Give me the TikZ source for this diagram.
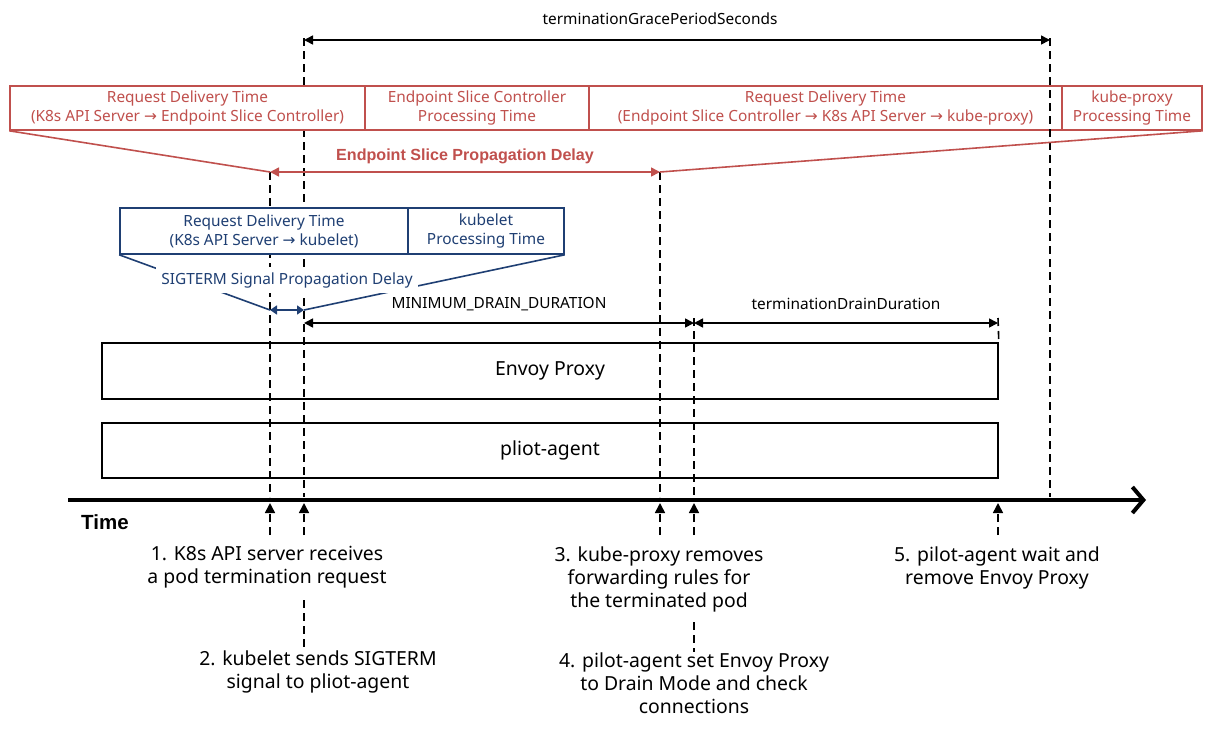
\documentclass[tikz,border=0pt]{standalone}
\usepackage{fontspec}
\setmainfont{Noto Sans}
\newfontfamily\headfont{Liberation Sans}
\newfontfamily\arrowfont{DejaVu Sans}
\newcommand{\rarr}{{\arrowfont\char"2192}}
\usetikzlibrary{arrows.meta}
\definecolor{esred}{HTML}{C0504D}
\definecolor{sigblue}{HTML}{1F3F73}

\begin{document}
\begin{tikzpicture}[x=1pt,y=-1pt,
  every node/.style={align=center,inner sep=0pt},
  smalltext/.style={font=\fontsize{15.4}{19}\selectfont},
  bigtext/.style={font=\fontsize{19.4}{23}\selectfont},
  redbox/.style={draw=esred,text=esred,fill=white,line width=1.6pt,minimum height=44pt,smalltext},
  bluebox/.style={draw=sigblue,text=sigblue,fill=white,line width=1.6pt,minimum height=46pt,smalltext},
  lane/.style={draw,line width=1.6pt,minimum height=56pt,bigtext},
  tick/.style={line width=1.6pt,dash pattern=on 8pt off 5pt},
  dim/.style={line width=1.6pt,{Triangle[length=9pt,width=9pt]}-{Triangle[length=9pt,width=9pt]}}]

  \useasboundingbox (0,0) rectangle (1221,729);

  % Specification of time points
  \coordinate (t1) at (270,172);
  \coordinate (t2) at (304,38);
  \coordinate (t3) at (660,172);
  \coordinate (t4) at (694,318);
  \coordinate (t5) at (998,318);
  \coordinate (tg) at (1050,38);
  \coordinate (s1) at (270,310);
  \coordinate (s2) at (304,310);
  \coordinate (m2) at (304,323);
  \coordinate (m4) at (694,323);
  \coordinate (m5) at (998,323);
  \coordinate (g2) at (304,40);
  \coordinate (gg) at (1050,40);
  \foreach \n/\x in {1/270,2/304,3/660,4/694,5/998,g/1050} {
    \coordinate (a\n) at (\x,497);
    \coordinate (u\n) at (\x,503);
    \coordinate (d\n) at (\x,535);
  }
  \coordinate (tstart) at (68,500);
  \coordinate (tend) at (1146,500);

  % dashed lines behind the boxes
  \draw[tick] (t2) -- (a2);
  \draw[tick] (t1) -- (a1);
  \draw[tick] (t3) -- (a3);
  \draw[tick] (t4) -- (a4);

  % Endpoint slice boxes
  \node[redbox,minimum width=355pt] (rd1) at (187.5,108) {Request Delivery Time\\(K8s API Server \rarr{} Endpoint Slice Controller)};
  \node[redbox,minimum width=224pt] (rd2) at (477,108) {Endpoint Slice Controller\\Processing Time};
  \node[redbox,minimum width=473pt] (rd3) at (825.5,108) {Request Delivery Time\\(Endpoint Slice Controller \rarr{} K8s API Server \rarr{} kube-proxy)};
  \node[redbox,minimum width=140pt] (rd4) at (1132,108) {kube-proxy\\Processing Time};

  \draw[tick] (tg) -- (ag);

  \begin{scope}[esred,line width=1.6pt]
    \draw (rd1.south west) -- (t1);
    \draw (rd4.south east) -- (t3);
    \draw[dim] (t1) -- (t3);
    \node[font=\headfont\fontsize{16.1}{18}\selectfont\bfseries] (esp) at (465,156) {Endpoint Slice Propagation Delay};
  \end{scope}

  % SIGTERM boxes
  \node[bluebox,minimum width=288pt] (bl1) at (264,231) {Request Delivery Time\\(K8s API Server \rarr{} kubelet)};
  \node[bluebox,minimum width=156pt] (bl2) at (486,231) {kubelet\\Processing Time};

  \begin{scope}[sigblue,line width=1.6pt]
    \draw (bl1.south west) -- (s1);
    \draw (bl2.south east) -- (s2);
    \node[fill=white,inner sep=5pt,smalltext] (sig) at (287,280) {SIGTERM Signal Propagation Delay};
    \draw[{Triangle[length=7pt,width=9pt]}-{Triangle[length=7pt,width=9pt]}] (s1) -- (s2);
  \end{scope}

  % durations
  \draw[dim] (g2) -- (gg);
  \node[smalltext] (grace) at (660,19) {terminationGracePeriodSeconds};
  \draw[dim] (m2) -- (m4);
  \draw[dim] (m4) -- (m5);
  \node[smalltext] (mdd) at (499,304) {MINIMUM\_DRAIN\_DURATION};
  \node[smalltext] (tdd) at (846,304) {terminationDrainDuration};

  % lanes
  \node[lane,minimum width=896pt] (envoy) at (550,371) {Envoy Proxy};
  \node[lane,minimum width=896pt,minimum height=55pt] (pilot) at (550,450.5) {pliot-agent};
  \draw[tick] (t5) -- (envoy.north east);

  % time axis
  \draw[line width=4.5pt,-{Straight Barb[length=11pt,width=26pt,line width=4pt]}] (tstart) -- (tend);
  \node[font=\headfont\fontsize{20.5}{22}\selectfont\bfseries,anchor=west] (time) at (81,522) {Time};

  \foreach \n in {1,...,5}
    \draw[tick,-{Triangle[length=10pt,width=10pt]}] (d\n) -- (u\n);

  % events
  \node[bigtext] (e1) at (267,567.5) {1. K8s API server receives\\a pod termination request};
  \node[bigtext] (e2) at (318,671.5) {2. kubelet sends SIGTERM\\signal to pliot-agent};
  \node[bigtext] (e3) at (659,579) {3. kube-proxy removes\\forwarding rules for\\the terminated pod};
  \node[bigtext] (e4) at (694,683) {4. pilot-agent set Envoy Proxy\\to Drain Mode and check\\connections};
  \node[bigtext] (e5) at (997,567.5) {5. pilot-agent wait and\\remove Envoy Proxy};

  \coordinate (k2) at (304,600);
  \coordinate (k4) at (694,622);
  \draw[tick] (k2) -- (e2.north -| k2);
  \draw[tick] (k4) -- (e4.north -| k4);

\end{tikzpicture}
\end{document}
